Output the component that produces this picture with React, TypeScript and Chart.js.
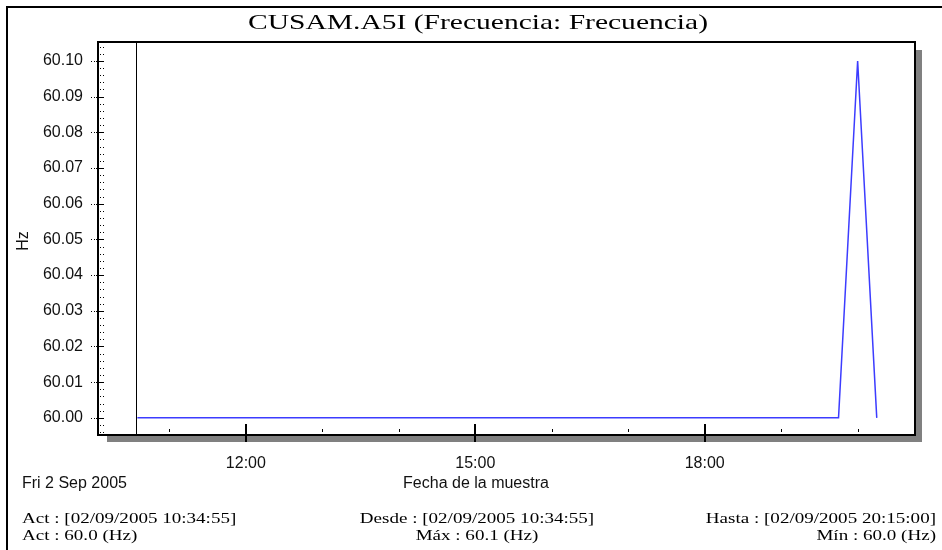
import React, { useEffect, useRef } from "react";
import { Chart, registerables } from "chart.js";

Chart.register(...registerables);

// ---------- data ----------
const TITLE = "CUSAM.A5I (Frecuencia: Frecuencia)";
const sampleTimes = ["10:34:55", "19:45:00", "20:00:00", "20:15:00"];
const freqHz = [60.0, 60.0, 60.1, 60.0];
const xAxisRange = ["10:04:00", "20:45:00"];
const yAxisRange = [59.9952, 60.1053];
const yMajorStep = 0.01;
const yMinorStep = 0.002;
const xStepHours = 1;
const xLabelEveryHours = 3;
const dateLabel = "Fri 2 Sep 2005";
const xAxisTitle = "Fecha de la muestra";
const yAxisTitle = "Hz";
const footerLeft = ["Act : [02/09/2005 10:34:55]", "Act : 60.0 (Hz)"];
const footerCenter = ["Desde : [02/09/2005 10:34:55]", "Máx : 60.1 (Hz)"];
const footerRight = ["Hasta : [02/09/2005 20:15:00]", "Mín : 60.0 (Hz)"];

const toHours = (t: string) => {
  const [h, m, s] = t.split(":").map(Number);
  return h + m / 60 + s / 3600;
};

const SANS = "'Liberation Sans', Arial, sans-serif";
const SERIF = "'Liberation Serif', 'Times New Roman', serif";

function drawStretched(
  ctx: CanvasRenderingContext2D,
  text: string,
  x: number,
  y: number,
  align: CanvasTextAlign,
  sx: number
) {
  ctx.save();
  ctx.translate(x, y);
  ctx.scale(sx, 1);
  ctx.textAlign = align;
  ctx.fillText(text, 0, 0);
  ctx.restore();
}

const framePlugin = {
  id: "frameDecor",
  beforeDraw(chart: any) {
    const { ctx, chartArea: a } = chart;
    ctx.save();
    ctx.fillStyle = "#ffffff";
    ctx.fillRect(0, 0, chart.width, chart.height);
    // outer frame (top + left)
    ctx.fillStyle = "#000000";
    ctx.fillRect(6, 6, chart.width - 6, 2);
    ctx.fillRect(6, 6, 2, chart.height - 6);
    // shadow
    ctx.fillStyle = "#808080";
    ctx.fillRect(a.left + 9, a.top + 8, a.right - a.left - 2, a.bottom - a.top - 1);
    // plot box
    ctx.fillStyle = "#ffffff";
    ctx.fillRect(a.left, a.top, a.right - a.left, a.bottom - a.top);
    // start marker line
    const xs = chart.scales.x;
    const sx = Math.round(xs.getPixelForValue(toHours(sampleTimes[0])));
    ctx.fillStyle = "#000000";
    ctx.fillRect(sx - 1, a.top, 1, a.bottom - a.top);
    ctx.restore();
  },
  afterDatasetsDraw(chart: any) {
    const { ctx, chartArea: a } = chart;
    const xs = chart.scales.x;
    const ys = chart.scales.y;
    ctx.save();
    // box border
    ctx.strokeStyle = "#000000";
    ctx.lineWidth = 2;
    ctx.strokeRect(a.left, a.top, a.right - a.left, a.bottom - a.top);

    ctx.fillStyle = "#000000";
    // x ticks
    xs.ticks.forEach((t: any) => {
      const px = Math.round(xs.getPixelForValue(t.value));
      if (Math.round(t.value) % xLabelEveryHours === 0) {
        ctx.fillRect(px - 1, a.bottom - 11, 2, 18);
      } else {
        ctx.fillRect(px, a.bottom - 6, 1, 3);
      }
    });
    // y ticks (major + minor)
    const L = Math.round(a.left);
    const start = Math.ceil(ys.min / yMinorStep - 1e-9);
    for (let k = start; k * yMinorStep <= ys.max + 1e-9; k++) {
      const v = k * yMinorStep;
      const py = Math.round(ys.getPixelForValue(v));
      const ratio = v / yMajorStep;
      const isMajor = Math.abs(ratio - Math.round(ratio)) < 1e-6;
      if (isMajor) {
        ctx.fillRect(L - 7, py, 1, 1);
        ctx.fillRect(L - 4, py, 1, 1);
        ctx.fillRect(L - 2, py, 8, 1);
      } else {
        ctx.fillRect(L + 2, py, 1, 1);
        ctx.fillRect(L + 5, py, 1, 1);
      }
    }
    ctx.restore();
  },
  afterDraw(chart: any) {
    const { ctx } = chart;
    ctx.save();
    ctx.fillStyle = "#000000";
    ctx.textBaseline = "alphabetic";
    // title
    ctx.font = `21px ${SERIF}`;
    const tw = ctx.measureText(TITLE).width;
    drawStretched(ctx, TITLE, 478, 29, "center", 460 / tw);

    // y axis title
    ctx.font = `16px ${SANS}`;
    ctx.fillStyle = "#111111";
    ctx.save();
    ctx.translate(24, 241);
    ctx.rotate(-Math.PI / 2);
    ctx.textAlign = "center";
    ctx.textBaseline = "middle";
    ctx.fillText(yAxisTitle, 0, 0);
    ctx.restore();

    // date + x axis title
    ctx.textBaseline = "middle";
    ctx.textAlign = "left";
    ctx.fillText(dateLabel, 22, 484);
    ctx.textAlign = "center";
    ctx.fillText(xAxisTitle, 476, 484);

    // footer
    ctx.fillStyle = "#000000";
    ctx.font = `15px ${SERIF}`;
    ctx.textBaseline = "middle";
    const ys = [519, 536];
    const sxF = 1.27;
    footerLeft.forEach((t, i) => drawStretched(ctx, t, 22, ys[i], "left", sxF));
    footerCenter.forEach((t, i) => drawStretched(ctx, t, 477, ys[i], "center", sxF));
    footerRight.forEach((t, i) => drawStretched(ctx, t, 936, ys[i], "right", sxF));
    ctx.restore();
  },
};

export default function App() {
  const canvasRef = useRef<HTMLCanvasElement | null>(null);

  useEffect(() => {
    const canvas = canvasRef.current;
    if (!canvas) return;
    const points = sampleTimes.map((t, i) => ({ x: toHours(t), y: freqHz[i] }));
    const chart = new Chart(canvas, {
      type: "line",
      data: {
        datasets: [
          {
            data: points,
            borderColor: "#3c3cff",
            borderWidth: 1.5,
            pointRadius: 0,
            tension: 0,
            fill: false,
          },
        ],
      },
      options: {
        animation: false,
        responsive: false,
        devicePixelRatio: 1,
        parsing: false as any,
        layout: { padding: { left: 0, top: 42, right: 27, bottom: 0 } },
        plugins: {
          legend: { display: false },
          title: { display: false },
          tooltip: { enabled: false },
        },
        scales: {
          x: {
            type: "linear",
            min: toHours(xAxisRange[0]),
            max: toHours(xAxisRange[1]),
            grid: { display: false, drawTicks: false },
            border: { display: false },
            afterFit: (s: any) => {
              s.height = 115;
            },
            ticks: {
              stepSize: xStepHours,
              includeBounds: false,
              autoSkip: false,
              maxRotation: 0,
              minRotation: 0,
              padding: 19,
              color: "#111111",
              font: { family: SANS, size: 16 },
              callback: (v: any) => {
                const h = Math.round(Number(v));
                return h % xLabelEveryHours === 0 ? `${h}:00` : "";
              },
            },
          },
          y: {
            type: "linear",
            min: yAxisRange[0],
            max: yAxisRange[1],
            grid: { display: false, drawTicks: false },
            border: { display: false },
            afterFit: (s: any) => {
              s.width = 98;
            },
            ticks: {
              stepSize: yMajorStep,
              includeBounds: false,
              autoSkip: false,
              padding: 15,
              color: "#111111",
              font: { family: SANS, size: 16 },
              callback: (v: any) => Number(v).toFixed(2),
            },
          },
        },
      },
      plugins: [framePlugin],
    });
    return () => chart.destroy();
  }, []);

  return (
    <div style={{ position: "absolute", left: 0, top: 0, width: 942, height: 550 }}>
      <canvas ref={canvasRef} width={942} height={550} style={{ display: "block" }} />
    </div>
  );
}
